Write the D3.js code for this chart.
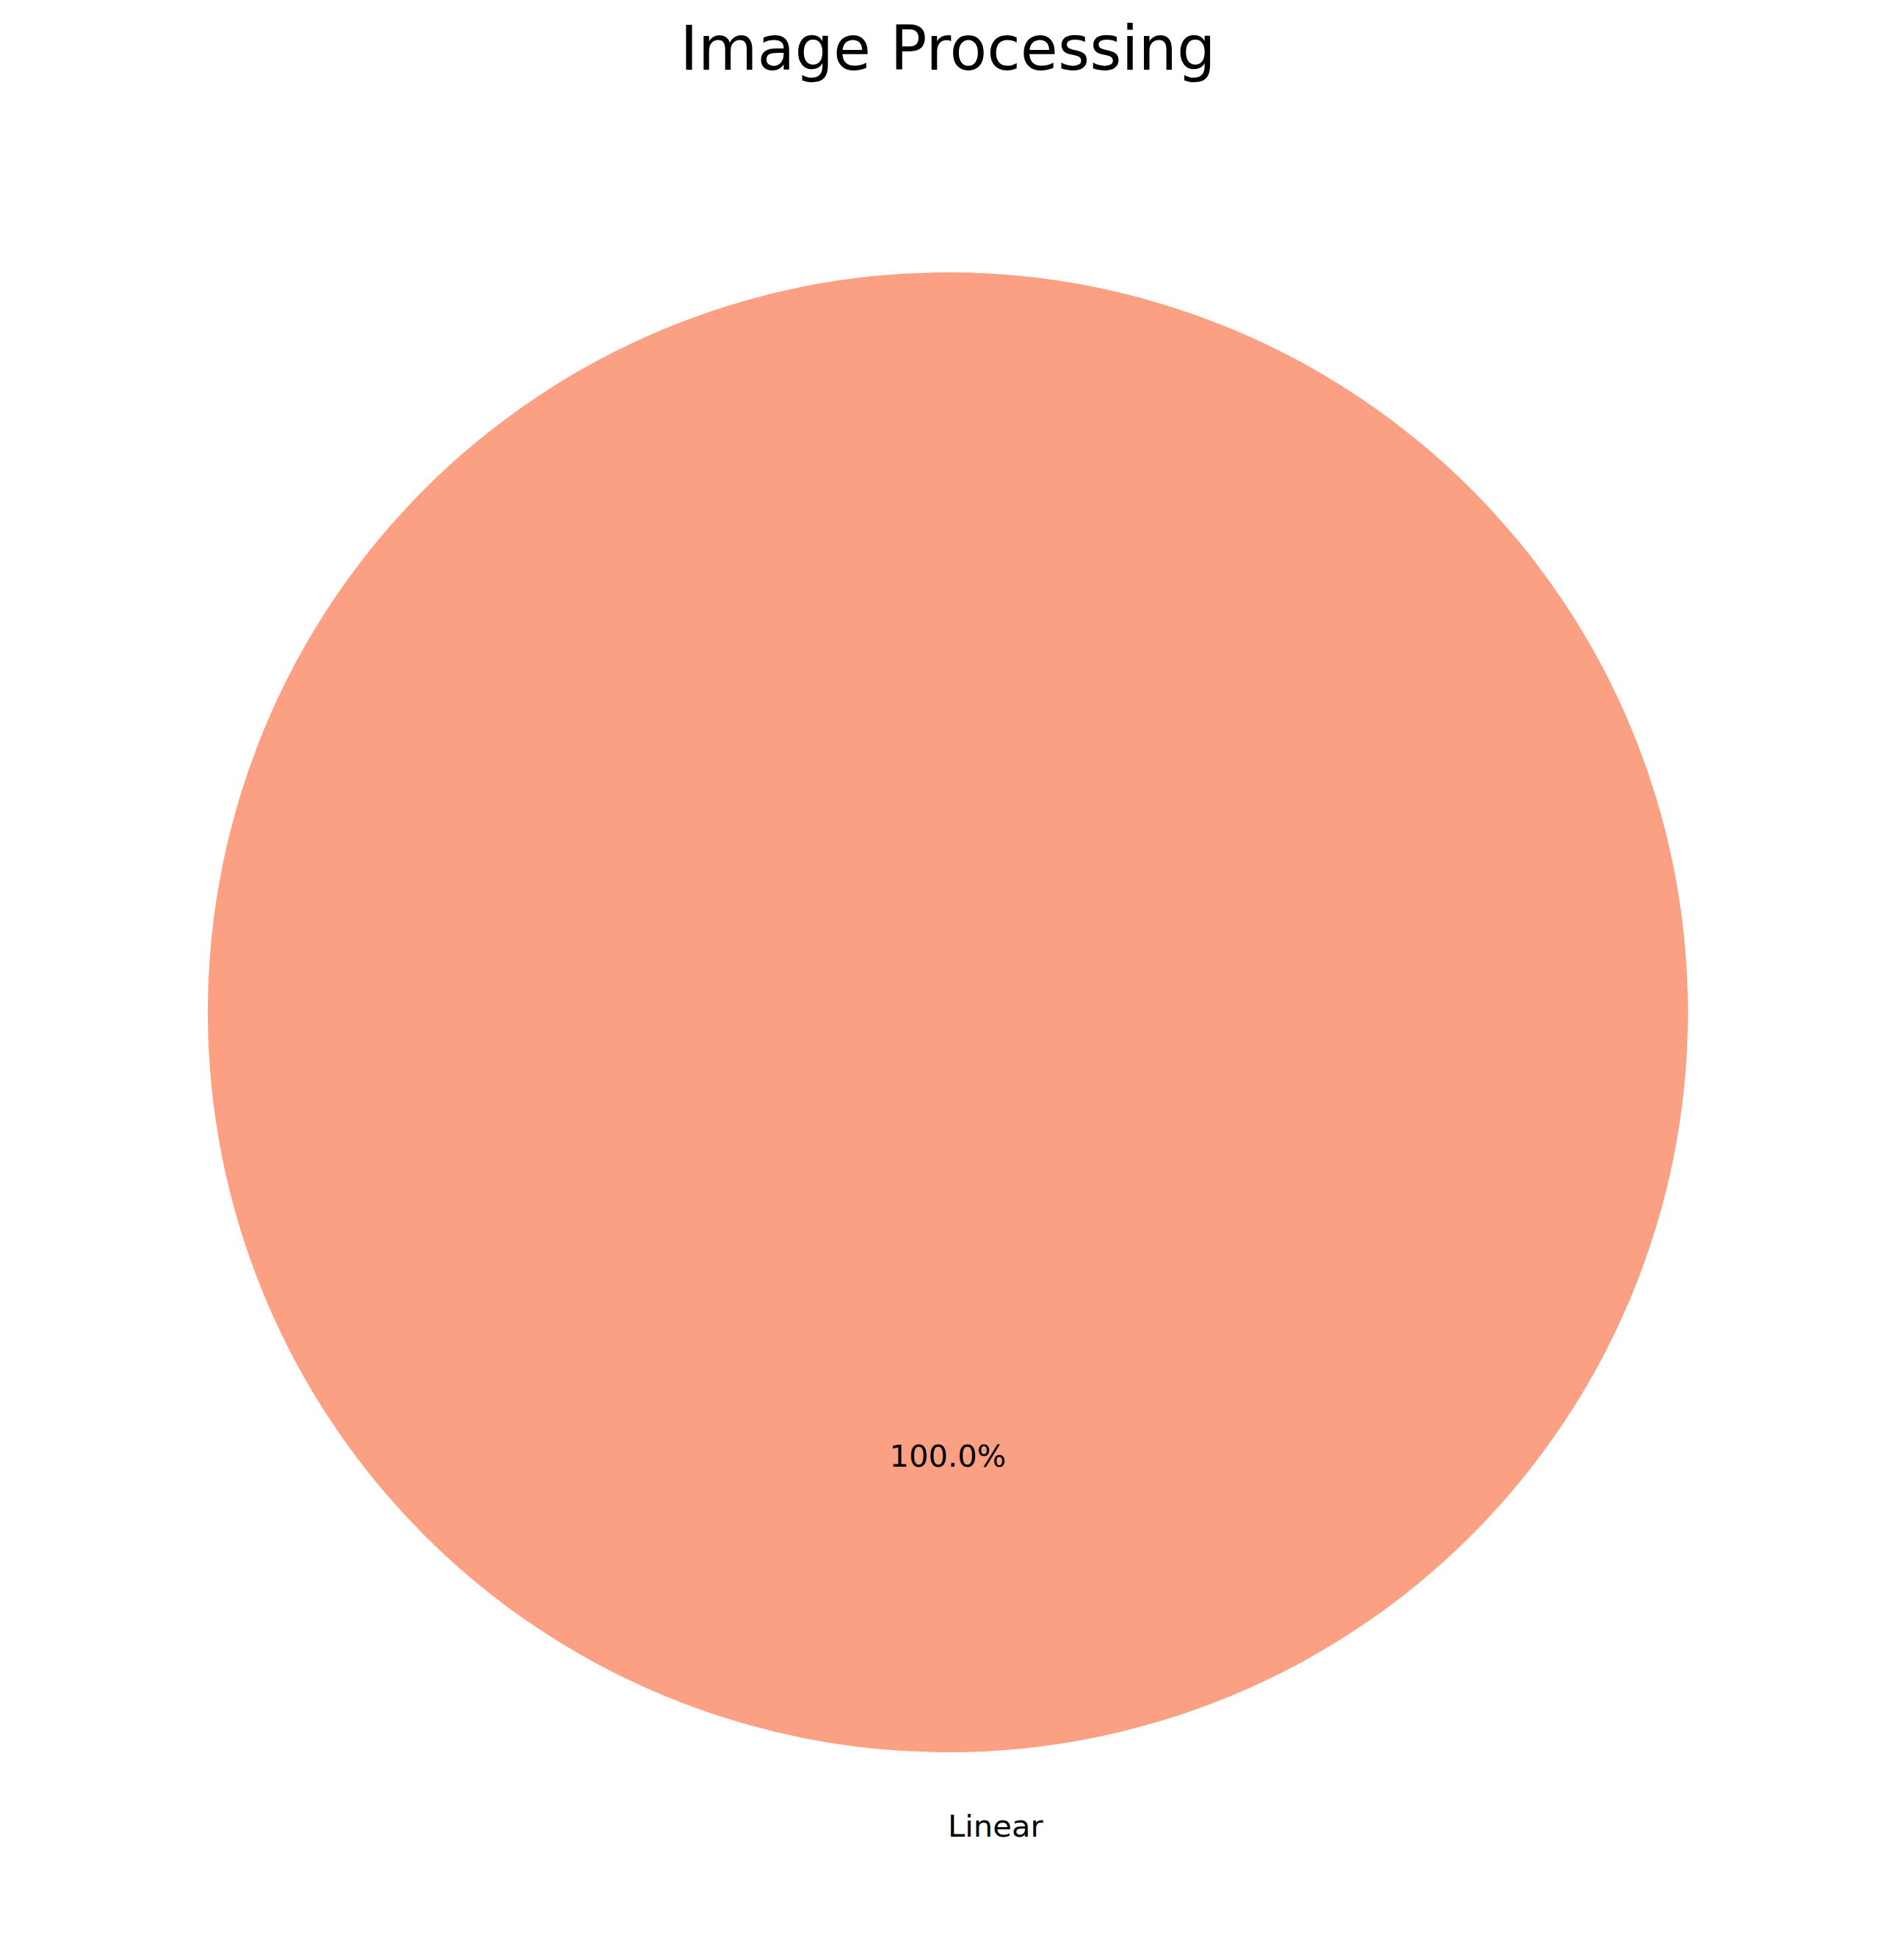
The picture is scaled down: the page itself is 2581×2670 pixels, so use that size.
<!DOCTYPE html>
<html>
<head>
<meta charset="utf-8">
<script src="https://cdn.jsdelivr.net/npm/d3@7"></script>
<style>
  body { margin: 0; background: #ffffff; }
  svg { display: block; }
  text { font-family: "DejaVu Sans", sans-serif; fill: #000; }
</style>
</head>
<body>
<script>
// data
var chartTitle = "Image Processing";
var categories = ["Linear"];
var values = [1];
var colors = ["#fba083"];

var width = 2581,
    height = 2670,
    cx = 1291,        // pie centre
    cy = 1379,
    radius = 1008;

var svg = d3.select("body").append("svg")
    .attr("width", width)
    .attr("height", height);

// title
svg.append("text")
    .attr("x", cx)
    .attr("y", 95)
    .attr("text-anchor", "middle")
    .style("font-size", "83px")
    .text(chartTitle);

var total = d3.sum(values);

// clockwise from the top, like matplotlib counterclock=False, startangle=90
var pie = d3.pie()
    .sort(null)
    .value(function(d) { return d; });

var arcs = pie(values);

var arc = d3.arc()
    .innerRadius(0)
    .outerRadius(radius);

var g = svg.append("g")
    .attr("transform", "translate(" + cx + "," + cy + ")");

g.selectAll("path.slice")
    .data(arcs)
    .enter()
    .append("path")
    .attr("class", "slice")
    .attr("d", arc)
    .attr("fill", function(d, i) { return colors[i % colors.length]; });

// position helper: d3 angles start at 12 o'clock and run clockwise
function pos(d, k) {
  var a = (d.startAngle + d.endAngle) / 2;
  return [Math.sin(a) * radius * k, -Math.cos(a) * radius * k];
}

// percentage labels at 0.6 r
g.selectAll("text.pct")
    .data(arcs)
    .enter()
    .append("text")
    .attr("class", "pct")
    .attr("x", function(d) { return pos(d, 0.6)[0]; })
    .attr("y", function(d) { return pos(d, 0.6)[1]; })
    .attr("text-anchor", "middle")
    .attr("dominant-baseline", "central")
    .style("font-size", "41.7px")
    .text(function(d) { return (d.value / total * 100).toFixed(1) + "%"; });

// category labels at 1.1 r, anchored left/right like matplotlib
g.selectAll("text.cat")
    .data(arcs)
    .enter()
    .append("text")
    .attr("class", "cat")
    .attr("x", function(d) { return pos(d, 1.1)[0]; })
    .attr("y", function(d) { return pos(d, 1.1)[1]; })
    .attr("text-anchor", function(d) { return pos(d, 1.1)[0] >= -1e-6 ? "start" : "end"; })
    .attr("dominant-baseline", "central")
    .style("font-size", "41.7px")
    .text(function(d, i) { return categories[i]; });
</script>
</body>
</html>
